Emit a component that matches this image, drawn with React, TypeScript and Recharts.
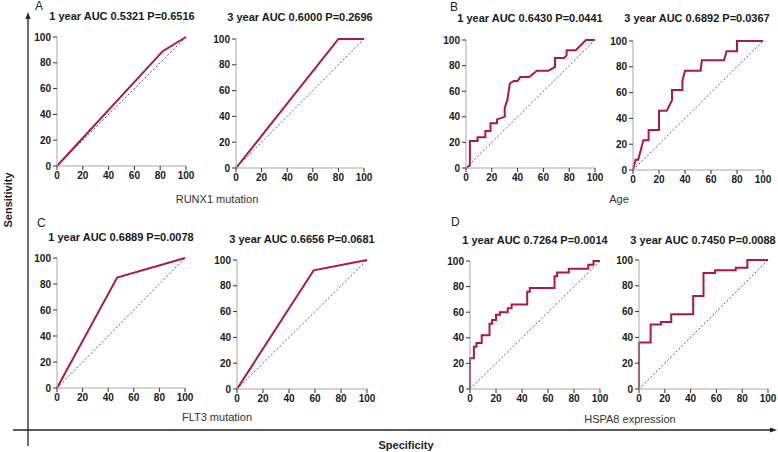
import React from "react";
import { LineChart, Line, XAxis, YAxis } from "recharts";

type Pt = { x: number; y: number };
const toPts = (a: number[][]): Pt[] => a.map(([x, y]) => ({ x, y }));

const ticks = [0, 20, 40, 60, 80, 100];
const diagonal = [[0, 0], [100, 100]];

const runx1Year1 = [[0, 0], [82, 89], [100, 100]];
const runx1Year3 = [[0, 0], [80, 100], [100, 100]];
const ageYear1 = [[0, 0], [3, 2], [3, 21], [9, 21], [9, 24], [15, 24], [15, 29], [19, 29], [19, 35], [24, 35], [24, 38], [27, 39], [30, 40], [30, 47], [32, 53], [34, 66], [37, 68], [40, 68], [42, 71], [49, 71], [55, 76], [64, 76], [69, 79], [69, 86], [76, 86], [78, 88], [78, 92], [85, 92], [93, 100], [100, 100]];
const ageYear3 = [[0, 0], [2, 8], [4, 8], [8, 23], [12, 23], [12, 31], [20, 31], [20, 46], [26, 46], [30, 54], [30, 62], [38, 62], [38, 69], [40, 77], [52, 77], [53, 85], [70, 85], [72, 92], [80, 92], [80, 100], [100, 100]];
const flt3Year1 = [[0, 0], [47, 85], [100, 100]];
const flt3Year3 = [[0, 0], [59, 92], [100, 100]];
const hspa8Year1 = [[0, 0], [0, 24], [3, 24], [3, 33], [5, 33], [5, 36], [9, 36], [9, 42], [15, 42], [15, 51], [17, 51], [17, 54], [20, 54], [20, 58], [23, 58], [23, 60], [29, 60], [29, 63], [32, 63], [32, 66], [44, 66], [44, 76], [46, 76], [46, 79], [65, 79], [65, 88], [67, 88], [67, 91], [76, 91], [76, 94], [91, 94], [91, 97], [95, 97], [95, 100], [100, 100]];
const hspa8Year3 = [[0, 0], [0, 36], [9, 36], [9, 50], [17, 50], [17, 52], [25, 52], [25, 58], [42, 58], [42, 72], [50, 72], [50, 90], [59, 90], [59, 92], [75, 92], [75, 94], [84, 94], [84, 100], [100, 100]];

const titles = [
  "1 year AUC 0.5321 P=0.6516",
  "3 year AUC 0.6000 P=0.2696",
  "1 year AUC 0.6430 P=0.0441",
  "3 year AUC 0.6892 P=0.0367",
  "1 year AUC 0.6889 P=0.0078",
  "3 year AUC 0.6656 P=0.0681",
  "1 year AUC 0.7264 P=0.0014",
  "3 year AUC 0.7450 P=0.0088",
];
const groupLabels = ["RUNX1 mutation", "Age", "FLT3 mutation", "HSPA8 expression"];
const panelLetters = ["A", "B", "C", "D"];

const FONT = "'Liberation Sans', Arial, sans-serif";
const CURVE = "#AB1752";

const YW = 30;
const XH = 22;
const MT = 6;
const MR = 12;

function Roc({ data, ax, top, bottom, right }: { data: number[][]; ax: number; top: number; bottom: number; right: number }) {
  const width = right - ax + YW + MR;
  const height = bottom - top + MT + XH;
  return (
    <div style={{ position: "absolute", left: ax - YW, top: top - MT }}>
      <LineChart width={width} height={height} margin={{ top: MT, right: MR, left: 0, bottom: 0 }}>
        <XAxis
          type="number"
          dataKey="x"
          domain={[0, 100]}
          ticks={ticks}
          height={XH}
          axisLine={{ stroke: "#a8a8a8", strokeWidth: 1 }}
          tickLine={{ stroke: "#333" }}
          tickSize={4}
          tick={{ fill: "#1a1a1a", fontSize: 10, fontWeight: 700, fontFamily: FONT }}
          interval={0}
        />
        <YAxis
          type="number"
          dataKey="y"
          domain={[0, 100]}
          ticks={ticks}
          width={YW}
          axisLine={{ stroke: "#a8a8a8", strokeWidth: 1 }}
          tickLine={{ stroke: "#333" }}
          tickSize={4}
          tick={{ fill: "#1a1a1a", fontSize: 10, fontWeight: 700, fontFamily: FONT }}
          interval={0}
        />
        <Line
          data={toPts(diagonal)}
          dataKey="y"
          type="linear"
          stroke="#333"
          strokeWidth={0.8}
          strokeDasharray="2 2"
          dot={false}
          isAnimationActive={false}
        />
        <Line
          data={toPts(data)}
          dataKey="y"
          type="linear"
          stroke={CURVE}
          strokeWidth={2}
          dot={false}
          isAnimationActive={false}
        />
      </LineChart>
    </div>
  );
}

const panels = [
  { data: runx1Year1, ax: 57, top: 37, bottom: 166, right: 186, tx: 122, ty: 20 },
  { data: runx1Year3, ax: 236, top: 39, bottom: 168, right: 364, tx: 300, ty: 21 },
  { data: ageYear1, ax: 466, top: 40, bottom: 168, right: 595, tx: 530, ty: 22 },
  { data: ageYear3, ax: 633, top: 41, bottom: 170, right: 763, tx: 697, ty: 22 },
  { data: flt3Year1, ax: 57, top: 258, bottom: 388, right: 185, tx: 121, ty: 241 },
  { data: flt3Year3, ax: 237, top: 260, bottom: 389, right: 367, tx: 302, ty: 243 },
  { data: hspa8Year1, ax: 470, top: 261, bottom: 389, right: 600, tx: 535, ty: 244 },
  { data: hspa8Year3, ax: 639, top: 260, bottom: 389, right: 768, tx: 703, ty: 244 },
];

const groupPos = [
  { x: 217, y: 203 },
  { x: 619, y: 203 },
  { x: 217, y: 421 },
  { x: 630, y: 423 },
];
const letterPos = [
  { x: 35, y: 10 },
  { x: 450, y: 11 },
  { x: 37, y: 227 },
  { x: 451, y: 226 },
];

export default function App() {
  return (
    <div style={{ position: "absolute", left: 0, top: 0, width: 778, height: 452, background: "#fff", overflow: "hidden", fontFamily: FONT }}>
      <svg width={778} height={452} style={{ position: "absolute", left: 0, top: 0 }}>
        <line x1={28} y1={18} x2={28} y2={446} stroke="#222" strokeWidth={1.3} />
        <polygon points="28,12 25.5,19 30.5,19" fill="#222" />
        <line x1={13} y1={430} x2={771} y2={430} stroke="#222" strokeWidth={1.3} />
        <polygon points="777,430 770,427.5 770,432.5" fill="#222" />
        <text x={406} y={449} textAnchor="middle" fontSize={11} fontWeight={700} fill="#222" fontFamily={FONT}>Specificity</text>
        <text x={0} y={0} transform="translate(12,200) rotate(-90)" textAnchor="middle" fontSize={11} fontWeight={700} fill="#222" fontFamily={FONT}>Sensitivity</text>
        {panels.map((p, i) => (
          <text key={i} x={p.tx} y={p.ty} textAnchor="middle" fontSize={11} fontWeight={700} fill="#1a1a1a" fontFamily={FONT}>{titles[i]}</text>
        ))}
        {groupLabels.map((g, i) => (
          <text key={g} x={groupPos[i].x} y={groupPos[i].y} textAnchor="middle" fontSize={11} fill="#333" fontFamily={FONT}>{g}</text>
        ))}
        {panelLetters.map((l, i) => (
          <text key={l} x={letterPos[i].x} y={letterPos[i].y} fontSize={12} fill="#222" fontFamily={FONT}>{l}</text>
        ))}
      </svg>
      {panels.map((p, i) => (
        <Roc key={i} data={p.data} ax={p.ax} top={p.top} bottom={p.bottom} right={p.right} />
      ))}
    </div>
  );
}
